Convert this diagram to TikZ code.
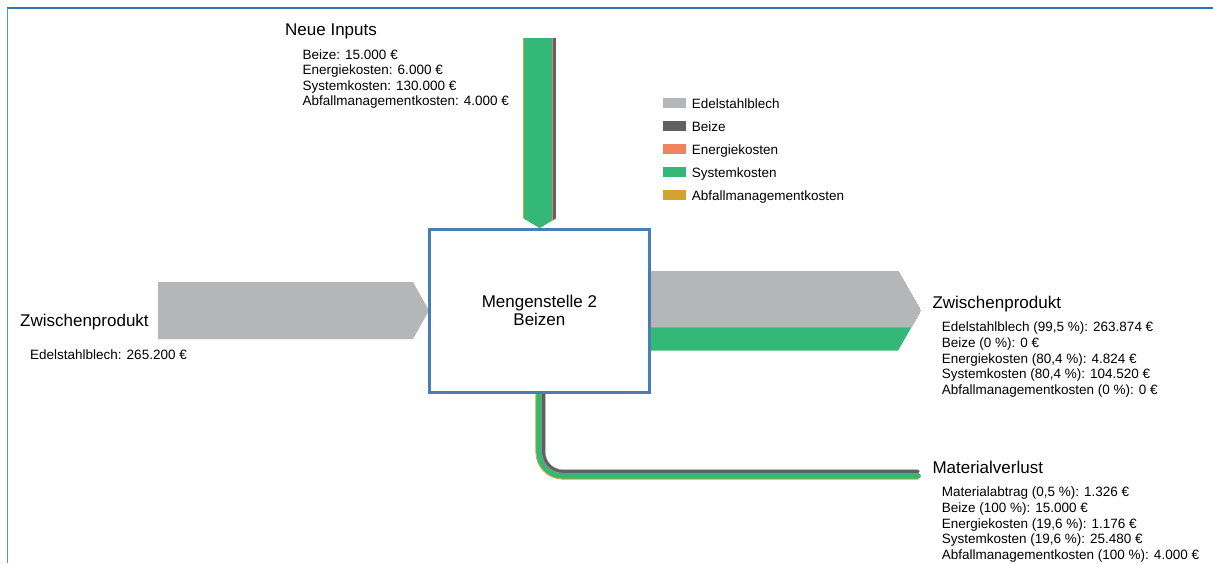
\documentclass[tikz,border=0pt]{standalone}
\usepackage{fontspec}
\setmainfont{Liberation Sans}

% flow colours
\definecolor{blech}{RGB}{180,182,183}
\definecolor{beize}{RGB}{95,96,98}
\definecolor{energie}{RGB}{240,130,94}
\definecolor{system}{RGB}{51,184,119}
\definecolor{abfall}{RGB}{212,162,51}
\definecolor{rahmen}{RGB}{72,126,182}
\definecolor{linie}{RGB}{46,117,182}

\begin{document}
\begin{tikzpicture}[x=1pt,y=-1pt,
  titel/.style={font=\fontsize{17}{20}\selectfont, anchor=base west, inner sep=0pt},
  info/.style={font=\fontsize{13.5}{15.5}\selectfont, anchor=base west, inner sep=0pt},
  stelle/.style={draw=rahmen, line width=2.7pt, fill=white, inner sep=0pt,
    minimum width=220.3pt, minimum height=163.2pt, align=center,
    font=\fontsize{17}{18}\selectfont}]
\useasboundingbox (0,0) rectangle (1213,563);

% frame lines
\draw[linie, line width=1.6pt] (7,8) -- (1213,8);
\draw[linie!80, line width=0.9pt] (7,8) -- (7,563);

% incoming intermediate product
\fill[blech] (158,282) -- (413,282) -- (429,310.5) -- (413,339) -- (158,339) -- cycle;

% new inputs from above
\begin{scope}
  \clip (523,38) -- (556.3,38) -- (556.3,218) -- (539.65,228) -- (523,218) -- cycle;
  \fill[abfall]  (523,38)    rectangle (556.3,228);
  \fill[system]  (523.86,38) rectangle (556.3,228);
  \fill[energie] (551.8,38)  rectangle (556.3,228);
  \fill[beize]   (553.1,38)  rectangle (556.3,228);
\end{scope}

% outgoing intermediate product
\begin{scope}
  \clip (645,270.5) -- (898,270.5) -- (921,310.6) -- (898,350.7) -- (645,350.7) -- cycle;
  \fill[system]  (645,270.5) rectangle (921,350.7);
  \fill[energie] (645,270.5) rectangle (921,328.2);
  \fill[blech]   (645,270.5) rectangle (921,327.2);
\end{scope}

% material loss ribbon (bands offset from the inner edge)
\foreach \o/\w/\c [evaluate=\o as \r using 17.5+\o] in
   {6.502/5.75/system, 1.898/3.45/beize, 9.671/0.86/abfall,
    3.637/0.253/energie, 0.142/0.285/blech}
  \draw[\c, line width=\w pt, line cap=round, rounded corners=\r pt]
    (545.5-\o,385) |- (918,469.5+\o);

% process box
\node[stelle] (box) at (539.4,310.9) {Mengenstelle 2\\Beizen};

% legend
\foreach \c/\t [count=\i from 0] in {blech/Edelstahlblech, beize/Beize,
    energie/Energiekosten, system/Systemkosten, abfall/Abfallmanagementkosten} {
  \fill[\c] (662.7,98.3+23*\i) rectangle (685.7,108.3+23*\i);
  \node[info] (leg-\i) at (691.7,108.3+23*\i) {\t};
}

% new inputs labels
\node[titel] (in-titel) at (285,35) {Neue Inputs};
\foreach \t [count=\i from 0] in {{Beize: 15.000 €}, {Energiekosten: 6.000 €},
    {Systemkosten: 130.000 €}, {Abfallmanagementkosten: 4.000 €}}
  \node[info] (in-\i) at (302.5,59.3+15.35*\i) {\t};

% incoming product labels
\node[titel] (zu-titel) at (20,326.5) {Zwischenprodukt};
\node[info] (zu-0) at (30,359) {Edelstahlblech: 265.200 €};

% outgoing product labels
\node[titel] (ab-titel) at (932.3,308.3) {Zwischenprodukt};
\foreach \t [count=\i from 0] in {{Edelstahlblech (99,5 \%): 263.874 €},
    {Beize (0 \%): 0 €}, {Energiekosten (80,4 \%): 4.824 €},
    {Systemkosten (80,4 \%): 104.520 €}, {Abfallmanagementkosten (0 \%): 0 €}}
  \node[info] (ab-\i) at (941.7,331.7+15.7*\i) {\t};

% material loss labels
\node[titel] (mv-titel) at (932.3,473.3) {Materialverlust};
\foreach \t [count=\i from 0] in {{Materialabtrag (0,5 \%): 1.326 €},
    {Beize (100 \%): 15.000 €}, {Energiekosten (19,6 \%): 1.176 €},
    {Systemkosten (19,6 \%): 25.480 €}, {Abfallmanagementkosten (100 \%): 4.000 €}}
  \node[info] (mv-\i) at (941.7,496.7+15.7*\i) {\t};
\end{tikzpicture}
\end{document}
